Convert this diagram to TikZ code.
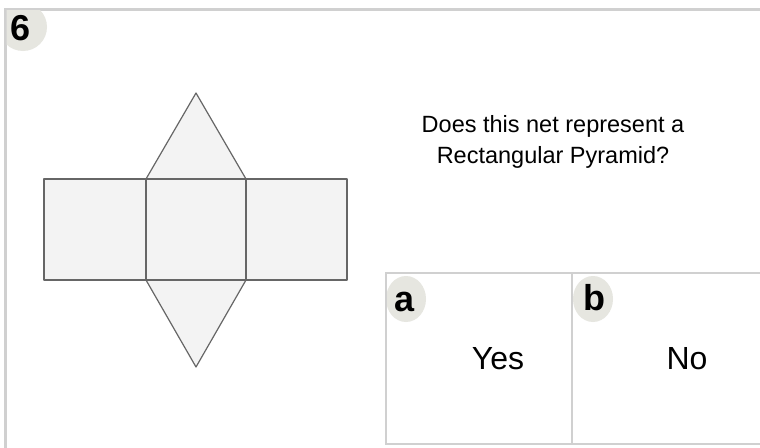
\documentclass[tikz,border=0pt]{standalone}
\usepackage{fontspec}
\setmainfont{Liberation Sans}
\usetikzlibrary{shapes.geometric}
\definecolor{netfill}{HTML}{F3F3F3}
\definecolor{netline}{HTML}{666666}
\definecolor{frame}{HTML}{D0D0D0}
\definecolor{badge}{HTML}{E6E6E0}
\begin{document}
\begin{tikzpicture}[x=1pt,y=-1pt,
  face/.style={fill=netfill,draw=netline,line width=1.2pt,line join=round},
  badgetxt/.style={font=\fontsize{36}{38}\selectfont\bfseries,inner sep=0pt},
  answer/.style={font=\fontsize{32}{36}\selectfont,inner sep=0pt},
  boxst/.style={draw=frame,line width=2pt}]
\useasboundingbox (0,0) rectangle (760,447);
\begin{scope}
\clip (0,0) rectangle (760,447);
% outer frame
\fill[white] (5,9) rectangle (780,460);
\draw[frame,line width=3pt] (5,470) -- (5,9) -- (780,9);
% badge 6
\begin{scope}
\clip (6.5,10.5) rectangle (760,447);
\node[circle,fill=badge,minimum size=48pt,inner sep=0pt] (b6) at (23,27) {};
\end{scope}
\node[badgetxt] (t6) at (21,28) {6};
% net
\coordinate (L1) at (44,179); \coordinate (L2) at (146,179);
\coordinate (L3) at (246,179); \coordinate (L4) at (347,179);
\coordinate (B1) at (44,280); \coordinate (B2) at (146,280);
\coordinate (B3) at (246,280); \coordinate (B4) at (347,280);
\coordinate (TA) at (196,93); \coordinate (BA) at (196,367);
\draw[face] (L2) -- (TA) -- (L3) -- cycle;
\draw[face] (B2) -- (BA) -- (B3) -- cycle;
\draw[face] (L1) rectangle (B2);
\draw[face] (L3) rectangle (B4);
\draw[face] (L2) rectangle (B3);
% question
\node[align=center,font=\fontsize{23.5}{31}\selectfont,inner sep=0pt] (q) at (553,142)
  {Does this net represent a\\Rectangular Pyramid?};
% answer boxes
\draw[boxst,fill=white] (386,273) rectangle (572,444) ;
\draw[boxst,fill=white] (572,273) rectangle (790,444);
\begin{scope}
\clip (387,274) rectangle (760,447);
\node[ellipse,fill=badge,minimum width=40pt,minimum height=46pt,inner sep=0pt] (ba) at (406,299) {};
\node[ellipse,fill=badge,minimum width=40pt,minimum height=46pt,inner sep=0pt] (bb) at (593,299) {};
\end{scope}
\node[badgetxt] (ta) at (405,302) {a};
\node[badgetxt] (tb) at (594,298) {b};
\node[answer] (ya) at (498,359) {Yes};
\node[answer] (nb) at (687,359) {No};
\end{scope}
\end{tikzpicture}
\end{document}
